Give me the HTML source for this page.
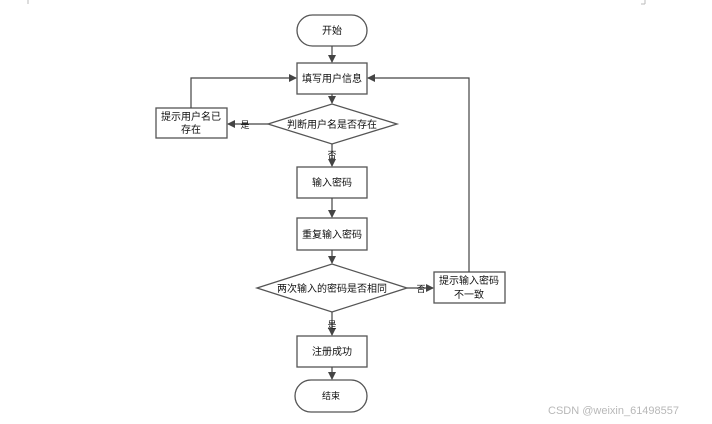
<!DOCTYPE html>
<html><head><meta charset="utf-8"><style>
html,body{margin:0;padding:0;background:#fff;}
svg{display:block;}
text{font-family:"Liberation Sans","Noto Sans CJK SC",sans-serif;font-size:10px;fill:#111;}
</style></head><body>
<svg width="712" height="424" viewBox="0 0 712 424" xmlns="http://www.w3.org/2000/svg">
<defs>
<marker id="a" markerWidth="8" markerHeight="8" refX="7" refY="4" orient="auto" markerUnits="userSpaceOnUse">
<path d="M0,0 L8,4 L0,8 z" fill="#444"/></marker>
</defs>
<path d="M28,0 V4 M645,0 V4 M641,4 H645" stroke="#bbb" fill="none"/>
<g fill="#fff" stroke="#555" stroke-width="1.3">
<rect x="297" y="15" width="70" height="31" rx="15.5"/>
<rect x="297" y="63" width="70" height="31"/>
<polygon points="268,124 332,104 397,124 332,144"/>
<rect x="156" y="108" width="71" height="30"/>
<rect x="297" y="167" width="70" height="31"/>
<rect x="297" y="218" width="70" height="32"/>
<polygon points="257,288 332,264 407,288 332,312"/>
<rect x="434" y="272" width="71" height="31"/>
<rect x="297" y="336" width="70" height="31"/>
<rect x="295" y="380" width="72" height="32" rx="16"/>
</g>
<g stroke="#444" stroke-width="1.2" fill="none">
<line x1="332" y1="46" x2="332" y2="62" marker-end="url(#a)"/>
<line x1="332" y1="94" x2="332" y2="103" marker-end="url(#a)"/>
<line x1="268" y1="124" x2="228" y2="124" marker-end="url(#a)"/>
<polyline points="191,108 191,78 296,78" marker-end="url(#a)"/>
<line x1="332" y1="144" x2="332" y2="166" marker-end="url(#a)"/>
<line x1="332" y1="198" x2="332" y2="217" marker-end="url(#a)"/>
<line x1="332" y1="250" x2="332" y2="263" marker-end="url(#a)"/>
<line x1="407" y1="288" x2="433" y2="288" marker-end="url(#a)"/>
<polyline points="469,272 469,78 368,78" marker-end="url(#a)"/>
<line x1="332" y1="312" x2="332" y2="335" marker-end="url(#a)"/>
<line x1="332" y1="367" x2="332" y2="379" marker-end="url(#a)"/>
</g>
<g text-anchor="middle">
<text x="332" y="34">开始</text>
<text x="332" y="82">填写用户信息</text>
<text x="332" y="128">判断用户名是否存在</text>
<text x="191" y="120">提示用户名已</text>
<text x="191" y="133">存在</text>
<text x="332" y="186">输入密码</text>
<text x="332" y="238">重复输入密码</text>
<text x="332" y="292">两次输入的密码是否相同</text>
<text x="469" y="284">提示输入密码</text>
<text x="469" y="298">不一致</text>
<text x="332" y="355">注册成功</text>
<text x="331" y="399" style="font-size:9px">结束</text>
<text x="245" y="128" style="font-size:9px">是</text>
<text x="332" y="158" style="font-size:9px">否</text>
<text x="421" y="292" style="font-size:9px">否</text>
<text x="332" y="328" style="font-size:9px">是</text>
</g>
<text x="548" y="414" style="font-size:11px;fill:#b8b8b8">CSDN @weixin_61498557</text>
</svg>
</body></html>
